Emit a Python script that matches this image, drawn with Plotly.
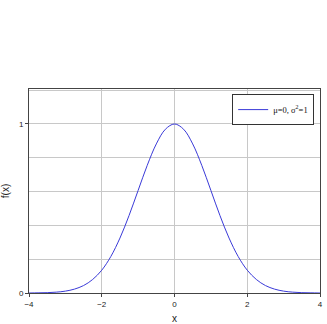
import plotly.graph_objects as go

x_vals = [-4.0, -3.75, -3.5, -3.25, -3.0, -2.75, -2.5, -2.25, -2.0, -1.75, -1.5, -1.25,
          -1.0, -0.75, -0.5, -0.25, 0.0, 0.25, 0.5, 0.75, 1.0, 1.25, 1.5, 1.75,
          2.0, 2.25, 2.5, 2.75, 3.0, 3.25, 3.5, 3.75, 4.0]
f_vals = [0.000, 0.001, 0.002, 0.005, 0.011, 0.023, 0.044, 0.080, 0.135, 0.216, 0.325, 0.458,
          0.607, 0.755, 0.882, 0.969, 1.000, 0.969, 0.882, 0.755, 0.607, 0.458, 0.325, 0.216,
          0.135, 0.080, 0.044, 0.023, 0.011, 0.005, 0.002, 0.001, 0.000]
series_name = "μ=0, σ<sup>2</sup>=1"
x_ticks = [-4, -2, 0, 2, 4]
y_ticks = [0, 1]

fig = go.Figure()
fig.add_trace(go.Scatter(x=x_vals, y=f_vals, mode="lines", name=series_name,
                         line=dict(color="#3a3ad8", width=1, shape="spline")))

fig.update_layout(
    width=327, height=324,
    margin=dict(l=29, r=7, t=89, b=31, pad=0),
    paper_bgcolor="white", plot_bgcolor="white",
    font=dict(family="Liberation Sans, Arial", size=8, color="#222"),
    showlegend=True,
    legend=dict(x=0.98, y=0.975, xanchor="right", yanchor="top",
                bordercolor="#333", borderwidth=1, bgcolor="white",
                itemwidth=30, tracegroupgap=0,
                font=dict(family="Liberation Serif, Times New Roman", size=8.5, color="#111")),
    xaxis=dict(range=[-4, 4], tickvals=x_ticks, ticks="outside", ticklen=3,
               showgrid=True, gridcolor="#c8c8c8", gridwidth=1,
               showline=True, linecolor="#444", linewidth=1, mirror=True,
               zeroline=False, automargin=False, title=dict(text="x", standoff=10)),
    yaxis=dict(range=[0, 1.207], tickvals=y_ticks, ticks="outside", ticklen=3,
               showgrid=False,
               minor=dict(dtick=0.2, tick0=0, showgrid=True, gridcolor="#c8c8c8", gridwidth=1),
               showline=True, linecolor="#444", linewidth=1, mirror=True,
               zeroline=False, automargin=False, title=dict(text="f(x)", standoff=8)),
)
fig.write_html("out.html")
